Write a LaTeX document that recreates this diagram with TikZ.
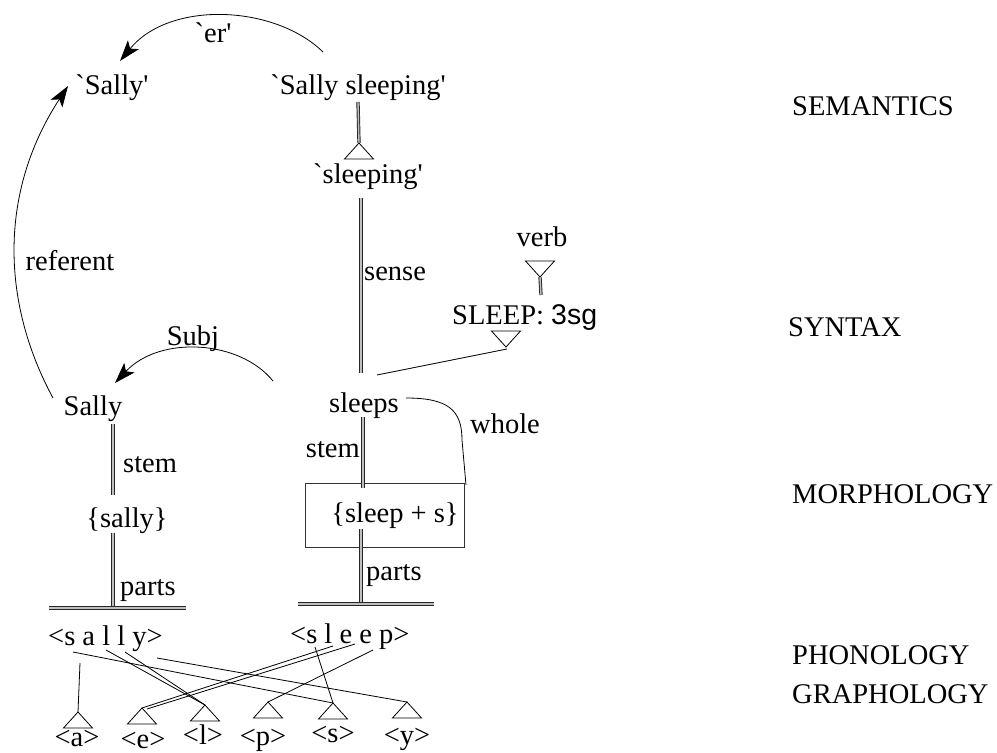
\documentclass[tikz,border=0pt]{standalone}
\usepackage{fontspec}
\setmainfont{Liberation Serif}
\newfontfamily\sansfam{Liberation Sans}
\usetikzlibrary{arrows.meta}
\newcommand\gq{\textasciigrave}
\newcommand\sq{\textquotesingle}
\begin{document}
\begin{tikzpicture}[x=1pt,y=-1pt,
  lbl/.style={font=\fontsize{28.5}{30}\selectfont, inner sep=0pt, anchor=base},
  lblL/.style={lbl, anchor=base west},
  lblR/.style={lbl, anchor=base east},
  thinln/.style={line width=0.8pt},
  dbl/.style={line width=0.95pt, draw=black!85, double=gray!50, double distance=1.4pt},
  arr/.style={thinln, -{Stealth[length=21pt,width=14pt,inset=5pt]}},
  isaup/.pic={\draw[thinln] (0,0) -- (-14.5,16) -- (14.5,16) -- cycle;},
  isadown/.pic={\draw[thinln] (0,0) -- (-14.5,-16) -- (14.5,-16) -- cycle;},
]
\useasboundingbox (0,0) rectangle (997,753);

% level names
\node[lblL] (sem) at (792,115.5) {SEMANTICS};
\node[lblL] (syn) at (788,336.5) {SYNTAX};
\node[lblL] (mor) at (792,503.5) {MORPHOLOGY};
\node[lblL] (pho) at (792,664.5) {PHONOLOGY};
\node[lblL] (gra) at (792,703.5) {GRAPHOLOGY};

% semantics
\node[lbl] (msally) at (112,94) {\gq Sally\sq};
\node[lbl] (mss) at (358,94) {\gq Sally sleeping\sq};
\node[lbl] (msleep) at (368,183) {\gq sleeping\sq};
\node[lbl] (er) at (213,42) {\gq er\sq};

% syntax
\node[lbl] (verb) at (542,246) {verb};
\node[lblL] (lex) at (452,324) {SLEEP: {\sansfam 3sg}};
\node[lbl] (sleeps) at (364,412) {sleeps};
\node[lbl] (sally) at (93,415) {Sally};
\node[lbl] (subj) at (193,345) {Subj};
\node[lbl] (referent) at (70,270) {referent};
\node[lblL] (sense) at (364,280) {sense};
\node[lblL] (whole) at (470,433) {whole};

% morphology
\node[lbl] (fsally) at (127,527) {\{sally\}};
\node[draw=black!80, thinln, minimum width=159pt, minimum height=64pt, inner sep=0pt] (box) at (384.5,515) {};
\node[lbl] (fsleep) at (395,522) {\{sleep + s\}};
\node[lblL] (stemL) at (123,472) {stem};
\node[lblR] (stemR) at (360,457) {stem};
\node[lblL] (partsL) at (120,595) {parts};
\node[lblL] (partsR) at (366,580) {parts};

% written forms
\node[lblL] (wsally) at (48,645) {<s a l l y>};
\node[lblL] (wsleep) at (290,643) {<s l e e p>};

% letters
\node[lbl] (ga) at (77,746) {<a>};
\node[lbl] (ge) at (143,748) {<e>};
\node[lbl] (gl) at (203,744) {<l>};
\node[lbl] (gp) at (263,745) {<p>};
\node[lbl] (gs) at (333,742) {<s>};
\node[lbl] (gy) at (407,744) {<y>};

% isa triangle apexes
\coordinate (pa) at (78,712);
\coordinate (pe) at (142,708);
\coordinate (pe2) at (147,709);
\coordinate (pl) at (205,705);
\coordinate (pp) at (268,702);
\coordinate (ps) at (333,703);
\coordinate (py) at (407,702);
\coordinate (tsem) at (359,143);
\coordinate (tverb) at (540,277);
\coordinate (tlex) at (506,347);

% isa triangles
\pic at (pa) {isaup};
\pic at (pe) {isaup};
\pic at (pl) {isaup};
\pic at (pp) {isaup};
\pic at (ps) {isaup};
\pic at (py) {isaup};
\pic at (tsem) {isaup};
\pic at (tverb) {isadown};
\pic at (tlex) {isadown};

% letter positions in the written forms
\coordinate (s1) at (73,652);
\coordinate (a1) at (80,663);
\coordinate (l1) at (106,650);
\coordinate (l2) at (125,652);
\coordinate (y1) at (157,658);
\coordinate (s2) at (315,647);
\coordinate (e1) at (333,646);
\coordinate (e2) at (355,644);
\coordinate (p2) at (373,650);

% letter links
\draw[thinln] (s1) -- (ps);
\draw[thinln] (a1) -- (pa);
\draw[thinln] (l1) -- (pl);
\draw[thinln] (l2) -- (pl);
\draw[thinln] (y1) -- (py);
\draw[thinln] (s2) -- (ps);
\draw[thinln] (e1) -- (pe);
\draw[thinln] (e2) -- (pe2);
\draw[thinln] (p2) -- (pp);

% double links
\coordinate (semtop) at (358,102);
\coordinate (senseT) at (361,198);
\coordinate (senseB) at (361,373);
\coordinate (verbB) at (541,295);
\coordinate (stemLT) at (113,424);
\coordinate (stemLB) at (113,495);
\coordinate (partsLT) at (113,533);
\coordinate (partsLB) at (113,607);
\coordinate (barL1) at (49,608);
\coordinate (barL2) at (186,608);
\coordinate (stemRT) at (363,417);
\coordinate (stemRB) at (363,488);
\coordinate (partsRT) at (361,529);
\coordinate (partsRB) at (361,602);
\coordinate (barR1) at (298,604);
\coordinate (barR2) at (434,604);

\draw[dbl] (semtop) -- (tsem);
\draw[dbl] (senseT) -- (senseB);
\draw[dbl] (tverb) -- (verbB);
\draw[dbl] (stemLT) -- (stemLB);
\draw[dbl] (partsLT) -- (partsLB);
\draw[dbl] (barL1) -- (barL2);
\draw[dbl] (stemRT) -- (stemRB);
\draw[dbl] (partsRT) -- (partsRB);
\draw[dbl] (barR1) -- (barR2);

% plain links
\coordinate (lexapex) at (507,349);
\coordinate (sleepsR) at (377,375);
\draw[thinln] (lexapex) -- (sleepsR);

\coordinate (wholeA) at (406,398);
\coordinate (wholeB) at (466,485);
\draw[thinln] (wholeA) .. controls (448,398) and (462,410) .. (462,440) -- (wholeB);

% arrows
\coordinate (erA) at (323,52);
\coordinate (erB) at (120,61);
\draw[arr] (erA) .. controls (275,5) and (170,0) .. (erB);

\coordinate (subjA) at (273,381);
\coordinate (subjB) at (115,383);
\draw[arr] (subjA) .. controls (240,340) and (160,335) .. (subjB);

\coordinate (refA) at (53,398);
\coordinate (refB) at (68,86);
\draw[arr] (refA) .. controls (0,300) and (0,190) .. (refB);
\end{tikzpicture}
\end{document}
